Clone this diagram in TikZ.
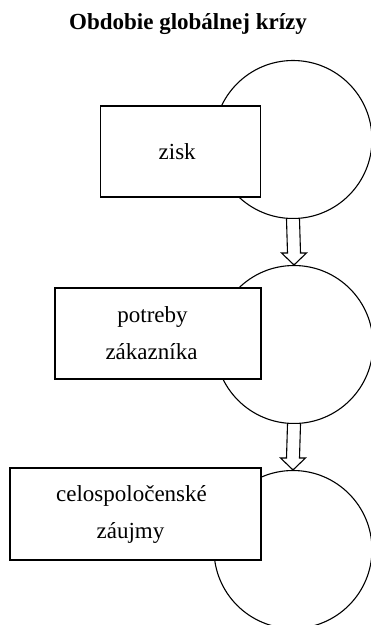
\documentclass[tikz,border=0pt]{standalone}
\usepackage{fontspec}
\setmainfont{Liberation Serif}
\usetikzlibrary{calc}
\tikzset{
  ring/.style={circle, draw, line width=1.1pt, minimum size=158pt, inner sep=0pt},
  box/.style={rectangle, draw, fill=white, line width=1.1pt, inner sep=0pt, align=center, font=\fontsize{23}{37}\selectfont},
  blockarrow/.style={draw, fill=white, line width=1.1pt, line join=miter},
  titletext/.style={font=\fontsize{23}{28}\selectfont\bfseries}
}
\begin{document}
\begin{tikzpicture}[x=1pt,y=-1pt]
\useasboundingbox (0,0) rectangle (371,625);
\clip (0,0) rectangle (371,625);
\node[titletext] (title) at (188,24) {Obdobie globálnej krízy};
% circles
\node[ring] (c1) at (293,139.5) {};
\node[ring] (c2) at (294,344.5) {};
\node[ring] (c3) at (293,549.5) {};
% block arrows
\draw[blockarrow] ($(c1.south)+(-6.5,0)$) -- ($(c2.north)+(-6.5,-12)$) -- ($(c2.north)+(-12.5,-12)$) -- (c2.north) -- ($(c2.north)+(12.5,-12)$) -- ($(c2.north)+(6.5,-12)$) -- ($(c1.south)+(6.5,0)$);
\draw[blockarrow] ($(c2.south)+(-6.5,0)$) -- ($(c3.north)+(-6.5,-12)$) -- ($(c3.north)+(-12.5,-12)$) -- (c3.north) -- ($(c3.north)+(12.5,-12)$) -- ($(c3.north)+(6.5,-12)$) -- ($(c2.south)+(6.5,0)$);
% boxes
\node[box, minimum width=160pt, minimum height=91pt] (r1) at (180.7,151.5) {zisk\hspace*{7pt}};
\node[box, minimum width=206pt, minimum height=91pt] (r2) at (158,333.5) {potreby\hspace*{11pt}\\zákazníka\hspace*{13pt}};
\node[box, minimum width=251pt, minimum height=92pt] (r3) at (135.5,514) {celospoločenské\hspace*{8pt}\\záujmy\hspace*{10pt}};
\end{tikzpicture}
\end{document}
